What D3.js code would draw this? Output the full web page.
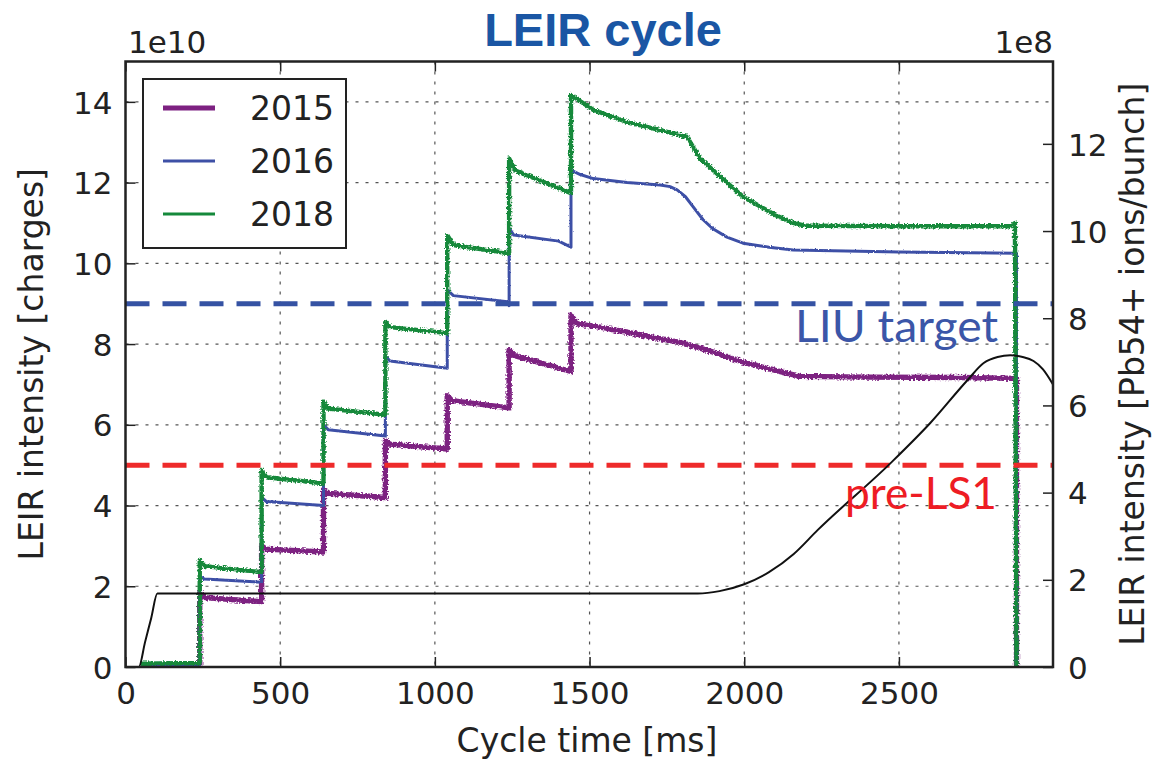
<!DOCTYPE html>
<html>
<head>
<meta charset="utf-8">
<script src="https://cdn.jsdelivr.net/npm/d3@7"></script>
<style>
  body { margin: 0; background: #fff; }
  svg { display: block; }
  .tick text { font-family: "DejaVu Sans", sans-serif; font-size: 31px; fill: #222; }
  .lbl { font-family: "DejaVu Sans", sans-serif; font-size: 31px; fill: #222; }
  .axlbl { font-family: "DejaVu Sans", sans-serif; font-size: 33px; fill: #222; }
</style>
</head>
<body>
<svg width="1155" height="762"></svg>
<script>
//////////////////     DATA
// cycle time [ms], intensity [1e10 charges]
const years = ["2015", "2016", "2018"];
const yearColors = ["#7d2181", "#3e50a6", "#15893b"];

const series2015 = [
  [50, 0.05], [240, 0.06],
  [240, 1.85], [255, 1.72], [440, 1.62],
  [440, 3.0], [455, 2.92], [640, 2.85],
  [640, 4.38], [655, 4.3], [840, 4.2],
  [840, 5.6], [855, 5.52], [1040, 5.4],
  [1040, 6.72], [1055, 6.6], [1240, 6.42],
  [1240, 7.85], [1255, 7.72], [1440, 7.32],
  [1440, 8.72], [1460, 8.5], [1534, 8.42], [1650, 8.25], [1800, 8.03], [1900, 7.8],
  [1996, 7.55], [2100, 7.35], [2180, 7.2], [2400, 7.18], [2700, 7.17], [2880, 7.15],
  [2880, 0]
];
const series2016 = [
  [50, 0.04], [240, 0.05],
  [240, 2.25], [255, 2.18], [440, 2.1],
  [440, 4.2], [455, 4.1], [640, 4.0],
  [640, 6.0], [655, 5.88], [840, 5.72],
  [840, 7.7], [855, 7.58], [1040, 7.4],
  [1040, 9.34], [1060, 9.2], [1235, 9.05], [1240, 8.95],
  [1240, 10.87], [1255, 10.7], [1400, 10.55], [1440, 10.4],
  [1440, 12.31], [1470, 12.2], [1512, 12.1], [1621, 12.0], [1728, 11.94], [1760, 11.9],
  [1783, 11.82], [1810, 11.65], [1835, 11.4], [1867, 11.08], [1900, 10.85], [1944, 10.65],
  [1996, 10.5], [2080, 10.4], [2158, 10.33], [2500, 10.28], [2880, 10.25],
  [2880, 0]
];
const series2018 = [
  [50, 0.08], [240, 0.1],
  [240, 2.65], [255, 2.5], [440, 2.35],
  [440, 4.88], [455, 4.7], [640, 4.55],
  [640, 6.58], [655, 6.4], [840, 6.25],
  [840, 8.55], [855, 8.42], [1040, 8.27],
  [1040, 10.7], [1060, 10.45], [1240, 10.25],
  [1240, 12.6], [1260, 12.3], [1440, 11.74],
  [1440, 14.17], [1512, 13.8], [1621, 13.5], [1728, 13.3], [1815, 13.13], [1835, 12.88],
  [1857, 12.6], [1944, 12.0], [1996, 11.65], [2100, 11.2], [2158, 11.0], [2200, 10.93],
  [2500, 10.92], [2860, 10.92], [2875, 11.0], [2880, 0]
];
const allSeries = [series2015, series2016, series2018];

// magnetic cycle (scaled), plotted on the left axis
const cycleCurve = [
  [0, 0], [43, 0], [63, 0.61], [83, 1.21], [103, 1.82], [1850, 1.82], [1920, 1.88],
  [2000, 2.05], [2080, 2.35], [2160, 2.8], [2237, 3.39], [2473, 5.05], [2602, 6.05],
  [2722, 7.11], [2774, 7.53], [2819, 7.68], [2860, 7.72], [2900, 7.68], [2935, 7.58],
  [2965, 7.38], [2998, 7.0]
];

const refLevels = [9, 5];                 // LIU target, pre-LS1
const refLabels = ["LIU target", "pre-LS1"];
const refColors = ["#3552a3", "#ee2a2a"];

const xTicks = [0, 500, 1000, 1500, 2000, 2500];
const yTicks = [0, 2, 4, 6, 8, 10, 12, 14];
const y2Ticks = [0, 2, 4, 6, 8, 10, 12];
//////////////////////////////////////////////////

const svg = d3.select("svg");
const pLeft = 125.5, pRight = 1053, pTop = 61.5, pBottom = 667;

const x = d3.scaleLinear().domain([0, 2998]).range([pLeft, pRight]);
const y = d3.scaleLinear().domain([0, 15]).range([pBottom, pTop]);
// 1e10 charges -> 1e8 Pb54+ ions per bunch (54 charges, 2 bunches)
const y2 = d3.scaleLinear().domain([0, 1500 / 108]).range([pBottom, pTop]);

const defs = svg.append("defs");
const addNoise = (id, scale) => {
  const f = defs.append("filter").attr("id", id)
    .attr("x", "-2%").attr("y", "-2%").attr("width", "104%").attr("height", "104%");
  f.append("feTurbulence").attr("type", "fractalNoise").attr("baseFrequency", 0.6)
    .attr("numOctaves", 1).attr("seed", 4).attr("result", "n");
  f.append("feDisplacementMap").attr("in", "SourceGraphic").attr("in2", "n")
    .attr("scale", scale).attr("xChannelSelector", "R").attr("yChannelSelector", "G");
};
addNoise("noisy", 5);
addNoise("noisyLight", 2.5);

defs.append("clipPath").attr("id", "plotclip")
  .append("rect").attr("x", pLeft).attr("y", pTop).attr("width", pRight - pLeft).attr("height", pBottom - pTop);

// grid
const grid = svg.append("g").attr("stroke", "#555").attr("stroke-width", 1.2).attr("stroke-dasharray", "3,7");
grid.selectAll(".gx").data(xTicks.slice(1)).enter().append("line")
  .attr("x1", d => x(d)).attr("x2", d => x(d)).attr("y1", pTop).attr("y2", pBottom);
grid.selectAll(".gy").data(yTicks.slice(1)).enter().append("line")
  .attr("y1", d => y(d)).attr("y2", d => y(d)).attr("x1", pLeft).attr("x2", pRight);

const plotG = svg.append("g").attr("clip-path", "url(#plotclip)");

const line = d3.line().x(d => x(d[0])).y(d => y(d[1]));
const widths = [5.4, 3, 4.4];
const noise = ["url(#noisy)", "url(#noisyLight)", "url(#noisy)"];

allSeries.forEach((s, i) => {
  plotG.append("path")
    .datum(s)
    .attr("d", line)
    .attr("fill", "none")
    .attr("stroke", yearColors[i])
    .attr("stroke-width", widths[i])
    .attr("stroke-linejoin", "round")
    .attr("filter", noise[i]);
});

// reference levels
refLevels.forEach((v, i) => {
  plotG.append("line")
    .attr("x1", pLeft).attr("x2", pRight)
    .attr("y1", y(v)).attr("y2", y(v))
    .attr("stroke", refColors[i])
    .attr("stroke-width", 5)
    .attr("stroke-dasharray", "24,13");
});

plotG.append("path")
  .datum(cycleCurve)
  .attr("d", d3.line().x(d => x(d[0])).y(d => y(d[1])).curve(d3.curveMonotoneX))
  .attr("fill", "none")
  .attr("stroke", "#111")
  .attr("stroke-width", 2);

svg.append("text").attr("x", 795).attr("y", 342)
  .attr("font-family", "Lato, 'Open Sans', sans-serif").attr("font-size", 45)
  .attr("textLength", 203).attr("lengthAdjust", "spacingAndGlyphs")
  .attr("fill", "#3b56a8").text(refLabels[0]);
svg.append("text").attr("x", 845).attr("y", 509)
  .attr("font-family", "Lato, 'Open Sans', sans-serif").attr("font-size", 45)
  .attr("textLength", 152).attr("lengthAdjust", "spacingAndGlyphs")
  .attr("fill", "#ee1c24").text(refLabels[1]);

// axes, ticks pointing inwards
const fmt = d3.format("d");
const axB = svg.append("g").attr("transform", `translate(0,${pBottom})`)
  .call(d3.axisBottom(x).tickValues(xTicks).tickFormat(fmt).tickSize(-10).tickPadding(14));
const axT = svg.append("g").attr("transform", `translate(0,${pTop})`)
  .call(d3.axisTop(x).tickValues(xTicks).tickFormat("").tickSize(-10));
const axL = svg.append("g").attr("transform", `translate(${pLeft},0)`)
  .call(d3.axisLeft(y).tickValues(yTicks).tickFormat(fmt).tickSize(-10).tickPadding(13));
const axR = svg.append("g").attr("transform", `translate(${pRight},0)`)
  .call(d3.axisRight(y2).tickValues(y2Ticks).tickFormat(fmt).tickSize(-10).tickPadding(15));

[axB, axT, axL, axR].forEach(a => {
  a.select(".domain").remove();
  a.selectAll(".tick line").attr("stroke", "#222").attr("stroke-width", 1.5);
});
axB.selectAll(".tick text").attr("dy", null).attr("y", 37);
axL.selectAll(".tick text").attr("dy", "0.36em");
axR.selectAll(".tick text").attr("dy", "0.36em");

svg.append("rect")
  .attr("x", pLeft).attr("y", pTop).attr("width", pRight - pLeft).attr("height", pBottom - pTop)
  .attr("fill", "none").attr("stroke", "#222").attr("stroke-width", 2.5);

// offset labels and axis titles
svg.append("text").attr("class", "lbl").attr("x", 128).attr("y", 53).text("1e10");
svg.append("text").attr("class", "lbl").attr("x", 1053).attr("y", 53)
  .attr("text-anchor", "end").text("1e8");
svg.append("text").attr("class", "axlbl").attr("x", 587).attr("y", 752)
  .attr("text-anchor", "middle").text("Cycle time [ms]");
svg.append("text").attr("class", "axlbl")
  .attr("transform", `translate(43,${(pTop + pBottom) / 2}) rotate(-90)`)
  .attr("text-anchor", "middle").text("LEIR intensity [charges]");
svg.append("text").attr("class", "axlbl")
  .attr("transform", `translate(1144,${(pTop + pBottom) / 2}) rotate(-90)`)
  .attr("text-anchor", "middle").text("LEIR intensity [Pb54+ ions/bunch]");

svg.append("text")
  .attr("x", 603).attr("y", 46)
  .attr("text-anchor", "middle")
  .attr("font-family", "'Liberation Sans', Arial, sans-serif")
  .attr("font-weight", "bold").attr("font-size", 47)
  .attr("fill", "#1a56a4")
  .text("LEIR cycle");

// legend
const legendG = svg.append("g");
legendG.append("rect")
  .attr("x", 143).attr("y", 79).attr("width", 203).attr("height", 169)
  .attr("fill", "#fff").attr("stroke", "#222").attr("stroke-width", 2);
const legendWidths = [5, 3.2, 3];
const items = legendG.selectAll(".item").data(years).enter().append("g")
  .attr("transform", (d, i) => `translate(0,${108 + i * 53})`);
items.append("line")
  .attr("x1", 163).attr("x2", 215)
  .attr("stroke", (d, i) => yearColors[i])
  .attr("stroke-width", (d, i) => legendWidths[i]);
items.append("text")
  .attr("class", "lbl").attr("x", 250).attr("dy", "0.36em")
  .style("font-size", "33px")
  .text(d => d);
</script>
</body>
</html>
